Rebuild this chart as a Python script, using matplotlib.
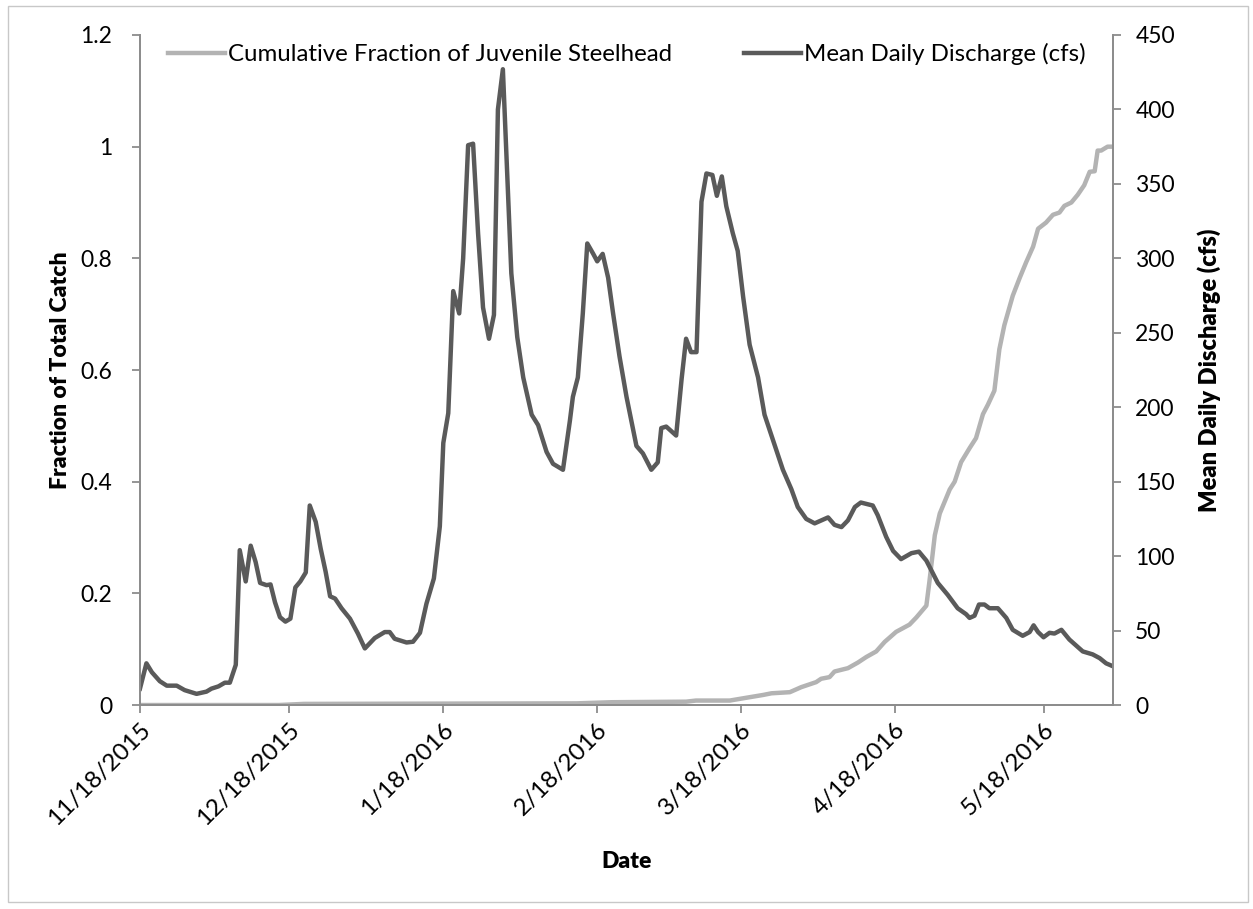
import matplotlib
matplotlib.use('Agg')
import matplotlib.pyplot as plt
import pandas as pd

plt.rcParams['font.family'] = ['Lato', 'DejaVu Sans']

start = pd.Timestamp('2015-11-18')

# mean daily discharge (cfs), day offsets from 11/18/2015
q_day = [0, 1.3, 2.4, 4, 5.4, 7.4, 9, 11.4, 13.4, 14.4, 15.8, 17.1, 18.1, 19.3, 20.1, 21.3,
         22.3, 23.3, 24.2, 25.5, 26.3, 27.2, 28.2, 29.3, 30.3, 31.3, 32.3, 33.4, 34.2, 35.4,
         36.4, 37.4, 38.3, 39.3, 40.6, 42.3, 43.9, 45.3, 47.3, 49.3, 50.3, 51.3, 53.7, 55,
         56.4, 57.7, 59.2, 60.4, 61.1, 62.1, 63.1, 64.3, 65.1, 66.1, 67.1, 68.1, 69.1, 70.3,
         71.3, 72.1, 73.1, 74.8, 76, 77.2, 78.9, 80.2, 81.9, 83.2, 85.2, 86.6, 87.2, 88.2,
         89.2, 90.1, 91.3, 92.1, 93.2, 94.3, 95.3, 96.6, 98, 100, 101.3, 103, 104.3, 105,
         106, 108, 109.1, 110, 111, 112.1, 113.1, 114.1, 115.3, 116.2, 117.2, 118.1, 119.4,
         120.4, 121.5, 122.8, 124.5, 125.8, 127.2, 129.5, 131.2, 132.5, 134.2, 135.9, 138.6,
         139.9, 141.3, 142.6, 144, 145.2, 147.6, 148.6, 150.3, 151.7, 153.3, 155.4, 156.9,
         158.4, 160.7, 162.7, 164.7, 166.4, 167.1, 168.1, 169, 170.1, 171.1, 172.8, 174.5,
         175.8, 177.8, 179.2, 180, 180.9, 182, 183.2, 184.2, 185.6, 187.2, 189.9, 191.9,
         193.3, 194.6, 196]
q_cfs = [11, 28, 22, 16, 13, 13, 10, 7.5, 9, 11, 12.5, 15, 15, 27, 104, 83,
         107, 96, 82, 80.5, 81, 69, 59, 56, 58, 79, 83, 89, 134, 123,
         105, 89.5, 73, 71.5, 65, 58, 48, 38, 45, 49, 49, 44.5, 42, 42.5,
         48.5, 68, 85, 120, 176, 196, 278, 263, 300, 376, 377, 317, 267, 246,
         262, 400, 427, 290, 247, 220, 195, 188, 170, 162, 158, 191, 207, 220,
         263, 310, 303, 298, 303, 287, 263, 234, 207, 174, 169, 158, 163, 186,
         187, 181, 219, 246, 237, 237, 338, 357, 356, 342, 355, 335, 317,
         305, 274, 242, 220, 195, 181, 158, 145, 133, 125, 122, 126,
         121, 119.5, 124, 133, 136, 134, 127.5, 113, 103.5, 98, 102, 103,
         97, 82, 74, 65, 61, 58.5, 60, 67.5, 67.5, 65, 65, 58.5,
         50.5, 46.5, 49, 53.5, 49, 45.5, 48.5, 48, 50.5, 44, 36, 34,
         31.5, 28, 26]

# cumulative fraction of juvenile steelhead
c_day = [0, 28, 33, 88, 95, 110, 112, 118.8, 122.8, 125.5, 127.2, 130.9, 133.2, 136.2, 137.2,
         138.9, 139.9, 142.6, 144.6, 146.3, 148.3, 150, 152.3, 155, 156.4, 158.4, 159,
         160.1, 161.1, 163.1, 164.1, 165.4, 167.1, 168.4, 169.8, 170.8, 172.1, 173.1, 174.1,
         175.8, 177.2, 178.5, 179.9, 180.9, 182.5, 183.9, 185.2, 186.2, 187.6, 188.9, 190.2,
         191.3, 192.3, 192.9, 193.6, 194.9, 196.3]
c_frac = [0, 0, 0.002, 0.003, 0.005, 0.006, 0.008, 0.008, 0.014, 0.018, 0.021, 0.023, 0.032,
          0.041, 0.047, 0.050, 0.060, 0.066, 0.076, 0.086, 0.096, 0.113, 0.131, 0.144, 0.157,
          0.178, 0.220, 0.304, 0.343, 0.386, 0.400, 0.435, 0.460, 0.478, 0.521, 0.538, 0.563,
          0.637, 0.680, 0.733, 0.765, 0.793, 0.821, 0.853, 0.864, 0.878, 0.882, 0.894, 0.900,
          0.914, 0.931, 0.955, 0.956, 0.993, 0.993, 1.0, 1.0]

tick_dates = ['2015-11-18', '2015-12-18', '2016-01-18', '2016-02-18', '2016-03-18',
              '2016-04-18', '2016-05-18']
tick_labels = ['11/18/2015', '12/18/2015', '1/18/2016', '2/18/2016', '3/18/2016',
               '4/18/2016', '5/18/2016']

light = '#b3b3b3'
dark = '#5a5a5a'
axis_gray = '#8c8c8c'

q_x = start + pd.to_timedelta(q_day, unit='D')
c_x = start + pd.to_timedelta(c_day, unit='D')

fig = plt.figure(figsize=(12.53, 9.09), dpi=100)
ax = fig.add_axes([0.1117, 0.2244, 0.7766, 0.7371])
ax2 = ax.twinx()

l1, = ax.plot(c_x, c_frac, color=light, lw=3.2, solid_joinstyle='round',
              label='Cumulative Fraction of Juvenile Steelhead', zorder=2)
l2, = ax2.plot(q_x, q_cfs, color=dark, lw=3.2, solid_joinstyle='round',
               label='Mean Daily Discharge (cfs)')

ax.set_xlim(start, start + pd.Timedelta(days=196))
ax.set_ylim(0, 1.2)
ax2.set_ylim(0, 450)
ax.set_yticks([0, 0.2, 0.4, 0.6, 0.8, 1, 1.2])
ax.set_yticklabels(['0', '0.2', '0.4', '0.6', '0.8', '1', '1.2'])
ax2.set_yticks(range(0, 451, 50))
ax.set_xticks(pd.to_datetime(tick_dates))
ax.set_xticklabels(tick_labels, rotation=45, ha='right', rotation_mode='anchor')

for a in (ax, ax2):
    a.spines['top'].set_visible(False)
    for s in ('left', 'right', 'bottom'):
        a.spines[s].set_color(axis_gray)
        a.spines[s].set_linewidth(1.3)
    a.tick_params(colors=axis_gray, labelcolor='black', labelsize=16.5, length=6, width=1.3)
ax.tick_params(axis='x', labelsize=17.5, pad=4)
ax.tick_params(axis='y', pad=14)
ax2.tick_params(axis='y', pad=10)

ax.set_ylabel('Fraction of Total Catch', fontsize=16.5, fontweight='heavy', labelpad=7)
ax2.set_ylabel('Mean Daily Discharge (cfs)', fontsize=17, fontweight='heavy', labelpad=16)
ax.set_xlabel('Date', fontsize=16.5, fontweight='heavy', labelpad=16)

ax.legend(handles=[l1, l2], loc='upper center', bbox_to_anchor=(0.5, 1.02), ncol=2,
          frameon=False, fontsize=17.3, handlelength=2.4, handletextpad=0.1, columnspacing=3.0)

# outer border like the source
fig.patches.append(plt.Rectangle((0.006, 0.008), 0.99, 0.985, transform=fig.transFigure,
                                 fill=False, edgecolor='#c8c8c8', lw=1))

plt.savefig('out.png', dpi=100)
